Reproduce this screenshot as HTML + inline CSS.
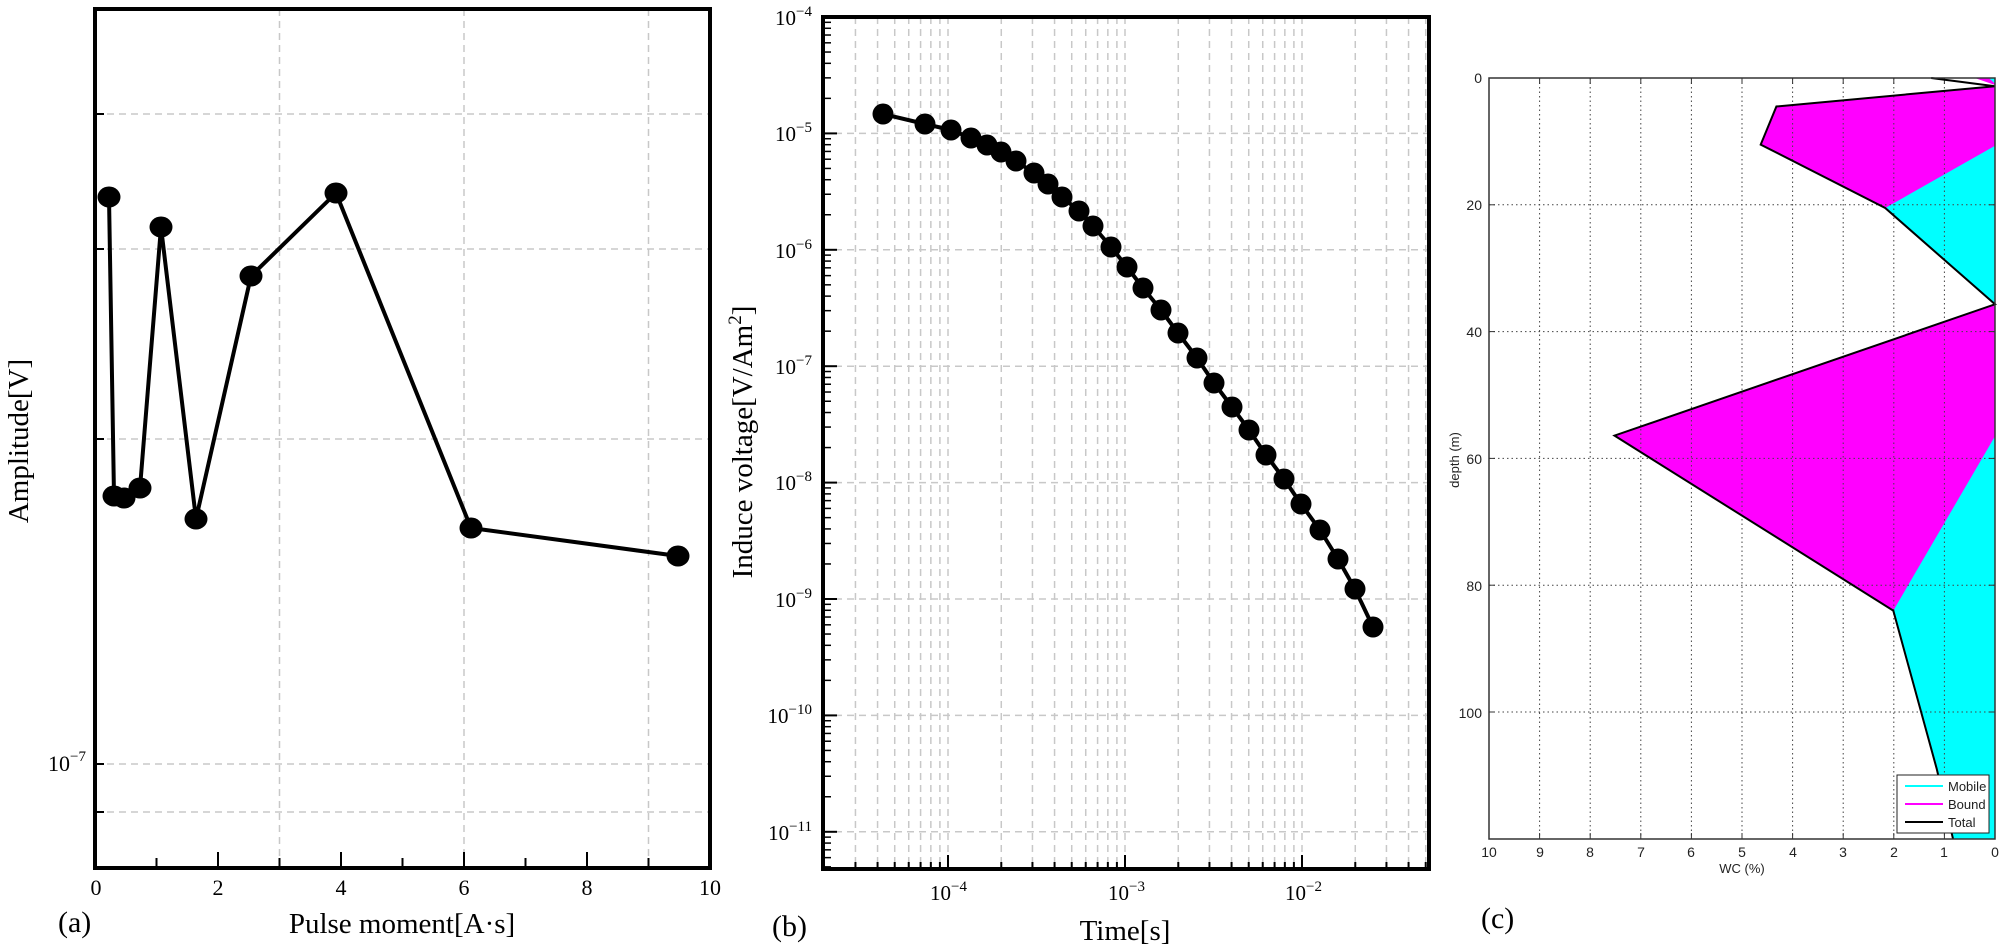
<!DOCTYPE html>
<html><head><meta charset="utf-8"><style>
html,body{margin:0;padding:0;background:#fff;}
svg{display:block;}
.s{font-family:"Liberation Serif",serif;fill:#000;}
.a{font-family:"Liberation Sans",sans-serif;fill:#222;}
</style></head><body>
<svg id="c" width="2006" height="950" viewBox="0 0 2006 950" xmlns="http://www.w3.org/2000/svg">
<g id="grid"></g>
<!-- Panel (a) -->
<polyline points="109,197 114,496 124,498 140,488 161,227 196,519 251,276 336,193 471,528 678,556" fill="none" stroke="#000" stroke-width="4" stroke-linejoin="round"/>
<g id="pa" fill="#000"></g>
<rect x="95" y="9" width="615" height="859" fill="none" stroke="#000" stroke-width="4"/>
<g class="s" font-size="22" text-anchor="middle">
<text x="96" y="895">0</text><text x="218" y="895">2</text><text x="341" y="895">4</text><text x="464" y="895">6</text><text x="587" y="895">8</text><text x="710" y="895">10</text>
</g>
<text class="s" x="48" y="771" font-size="22">10<tspan font-size="15" dy="-10">−7</tspan></text>
<text class="s" x="402" y="933" font-size="29" text-anchor="middle">Pulse moment[A·s]</text>
<text class="s" x="58" y="932" font-size="30">(a)</text>
<text class="s" font-size="29" text-anchor="middle" transform="translate(28,441) rotate(-90)">Amplitude[V]</text>

<!-- Panel (b) -->
<polyline id="pbl" fill="none" stroke="#000" stroke-width="4" stroke-linejoin="round"/>
<g id="pb" fill="#000"></g>
<rect x="823" y="17" width="606" height="852" fill="none" stroke="#000" stroke-width="4"/>
<g class="s" font-size="21" text-anchor="end">
<text x="812" y="25">10<tspan font-size="15" dy="-9">−4</tspan></text>
<text x="812" y="141">10<tspan font-size="15" dy="-9">−5</tspan></text>
<text x="812" y="258">10<tspan font-size="15" dy="-9">−6</tspan></text>
<text x="812" y="374">10<tspan font-size="15" dy="-9">−7</tspan></text>
<text x="812" y="490">10<tspan font-size="15" dy="-9">−8</tspan></text>
<text x="812" y="607">10<tspan font-size="15" dy="-9">−9</tspan></text>
<text x="812" y="723">10<tspan font-size="15" dy="-9">−10</tspan></text>
<text x="812" y="840">10<tspan font-size="15" dy="-9">−11</tspan></text>
</g>
<g class="s" font-size="21">
<text x="930" y="900">10<tspan font-size="15" dy="-9">−4</tspan></text>
<text x="1108" y="900">10<tspan font-size="15" dy="-9">−3</tspan></text>
<text x="1285" y="900">10<tspan font-size="15" dy="-9">−2</tspan></text>
</g>
<text class="s" x="1125" y="940" font-size="29" text-anchor="middle">Time[s]</text>
<text class="s" x="772" y="936" font-size="30">(b)</text>
<text class="s" font-size="29" text-anchor="middle" transform="translate(752,442) rotate(-90)">Induce voltage[V/Am<tspan font-size="19" dy="-11">2</tspan><tspan dy="11">]</tspan></text>

<!-- Panel (c) -->
<g id="pc"></g>
<rect x="1489" y="78" width="506" height="761" fill="none" stroke="#333" stroke-width="1.5"/>
<g class="a" font-size="14" text-anchor="end" id="cyl">
<text x="1482" y="83">0</text><text x="1482" y="210">20</text><text x="1482" y="337">40</text><text x="1482" y="464">60</text><text x="1482" y="591">80</text><text x="1482" y="718">100</text>
</g>
<g class="a" font-size="14" text-anchor="middle">
<text x="1489" y="857">10</text><text x="1540" y="857">9</text><text x="1590" y="857">8</text><text x="1641" y="857">7</text><text x="1691" y="857">6</text><text x="1742" y="857">5</text><text x="1793" y="857">4</text><text x="1843" y="857">3</text><text x="1894" y="857">2</text><text x="1944" y="857">1</text><text x="1995" y="857">0</text>
<text x="1742" y="873" font-size="13">WC (%)</text>
</g>
<text class="a" font-size="13" text-anchor="middle" transform="translate(1459,460) rotate(-90)">depth (m)</text>
<text class="s" x="1481" y="928" font-size="30">(c)</text>
<rect x="1897" y="775" width="92" height="58" fill="#fff" stroke="#222" stroke-width="1"/>
<line x1="1905" y1="786" x2="1943" y2="786" stroke="#00ffff" stroke-width="2"/>
<line x1="1905" y1="804" x2="1943" y2="804" stroke="#ff00ff" stroke-width="2"/>
<line x1="1905" y1="822" x2="1943" y2="822" stroke="#000" stroke-width="2"/>
<g class="a" font-size="13"><text x="1948" y="791">Mobile</text><text x="1948" y="809">Bound</text><text x="1948" y="827">Total</text></g>
</svg>
<script>
var NS="http://www.w3.org/2000/svg";
function el(p,n,a){var e=document.createElementNS(NS,n);for(var k in a)e.setAttribute(k,a[k]);p.appendChild(e);return e;}
var g=document.getElementById("grid");
var dash={stroke:"#c8c8c8","stroke-width":1.5,"stroke-dasharray":"7,5"};
function L(x1,y1,x2,y2,s){var a={x1:x1,y1:y1,x2:x2,y2:y2};for(var k in s)a[k]=s[k];el(g,"line",a);}
[114,249,439,764,812].forEach(function(y){L(95,y,710,y,dash);L(95,y,104,y,{stroke:"#000","stroke-width":2});});
[3,6,9].forEach(function(v){var x=95+61.5*v;L(x,9,x,868,dash);});
for(var v=1;v<10;v++){var x=95+61.5*v;L(x,868,x,v%2==0?852:858,{stroke:"#000","stroke-width":2});}
var pa=document.getElementById("pa");
[[109,197],[114,496],[124,498],[140,488],[161,227],[196,519],[251,276],[336,193],[471,528],[678,556]].forEach(function(p){el(pa,"ellipse",{cx:p[0],cy:p[1],rx:11.5,ry:10.5});});
function bx(l){return 948+(l+4)*177;} function by(l){return 17+(-4-l)*116.4;}
for(var d=-5;d<=-2;d++){for(var m=1;m<10;m++){var x=bx(d+Math.log10(m));if(x<=825||x>=1427)continue;L(x,17,x,869,dash);L(x,869,x,m==1?855:862,{stroke:"#000","stroke-width":2});}}
for(var d=-11;d<=-4;d++){var y=by(d);if(d<-4)L(823,y,1429,y,dash);L(823,y,837,y,{stroke:"#000","stroke-width":2});
 for(var m=2;m<10;m++){var yy=by(d-1+Math.log10(m));if(yy<869&&yy>17)L(823,yy,831,yy,{stroke:"#000","stroke-width":1.5});}}
var bp=[[883,114],[925,124],[951,130],[971,138],[987,145],[1001,152],[1016,161],[1034,173],[1048,184],[1062,197],[1079,211],[1093,226],[1111,247],[1127,267],[1143,288],[1161,310],[1178,333],[1197,358],[1214,383],[1232,407],[1249,430],[1266,455],[1284,479],[1301,504],[1320,530],[1338,559],[1355,589],[1373,627]];
document.getElementById("pbl").setAttribute("points",bp.map(function(p){return p.join(",");}).join(" "));
var pb=document.getElementById("pb");
bp.forEach(function(p){el(pb,"ellipse",{cx:p[0],cy:p[1],rx:10.5,ry:10.5});});
var pc=document.getElementById("pc");
function cx(w){return 1995-50.6*w;} function cy(d){return 78+6.34*d;}
function pts(a){return a.map(function(p){return cx(p[0]).toFixed(1)+","+cy(p[1]).toFixed(1);}).join(" ");}
var tot=[[0,1.3],[4.32,4.5],[4.63,10.5],[2.17,20.5],[0,35.7],[7.52,56.4],[2.01,84],[1.15,109],[0.83,120],[0,120]];
el(pc,"polygon",{points:pts(tot),fill:"#ff00ff"});
el(pc,"polygon",{points:pts([[0.4,0],[0,0],[0,1.1]]),fill:"#ff00ff"});
el(pc,"polygon",{points:pts([[0,10.7],[2.17,20.5],[0,35.7]]),fill:"#00ffff"});
el(pc,"polygon",{points:pts([[0,56.5],[2.01,84],[1.15,109],[0.83,120],[0,120]]),fill:"#00ffff"});
el(pc,"polygon",{points:pts([[0.12,0],[0,0],[0,0.9]]),fill:"#00ffff"});
var dot={stroke:"#444","stroke-width":1,"stroke-dasharray":"1.5,3"};
for(var w=1;w<10;w++){var x=cx(w);var a={x1:x,y1:78,x2:x,y2:839};for(var k in dot)a[k]=dot[k];el(pc,"line",a);
 el(pc,"line",{x1:x,y1:839,x2:x,y2:833,stroke:"#333","stroke-width":1});el(pc,"line",{x1:x,y1:78,x2:x,y2:84,stroke:"#333","stroke-width":1});}
for(var d=20;d<=100;d+=20){var y=cy(d);var a={x1:1489,y1:y,x2:1995,y2:y};for(var k in dot)a[k]=dot[k];el(pc,"line",a);
 el(pc,"line",{x1:1489,y1:y,x2:1495,y2:y,stroke:"#333","stroke-width":1});el(pc,"line",{x1:1989,y1:y,x2:1995,y2:y,stroke:"#333","stroke-width":1});}
el(pc,"polyline",{points:pts([[1.26,0],[0,1.3],[4.32,4.5],[4.63,10.5],[2.17,20.5],[0,35.7],[7.52,56.4],[2.01,84],[1.15,109],[0.83,120]]),fill:"none",stroke:"#000","stroke-width":2});
</script>
</body></html>
